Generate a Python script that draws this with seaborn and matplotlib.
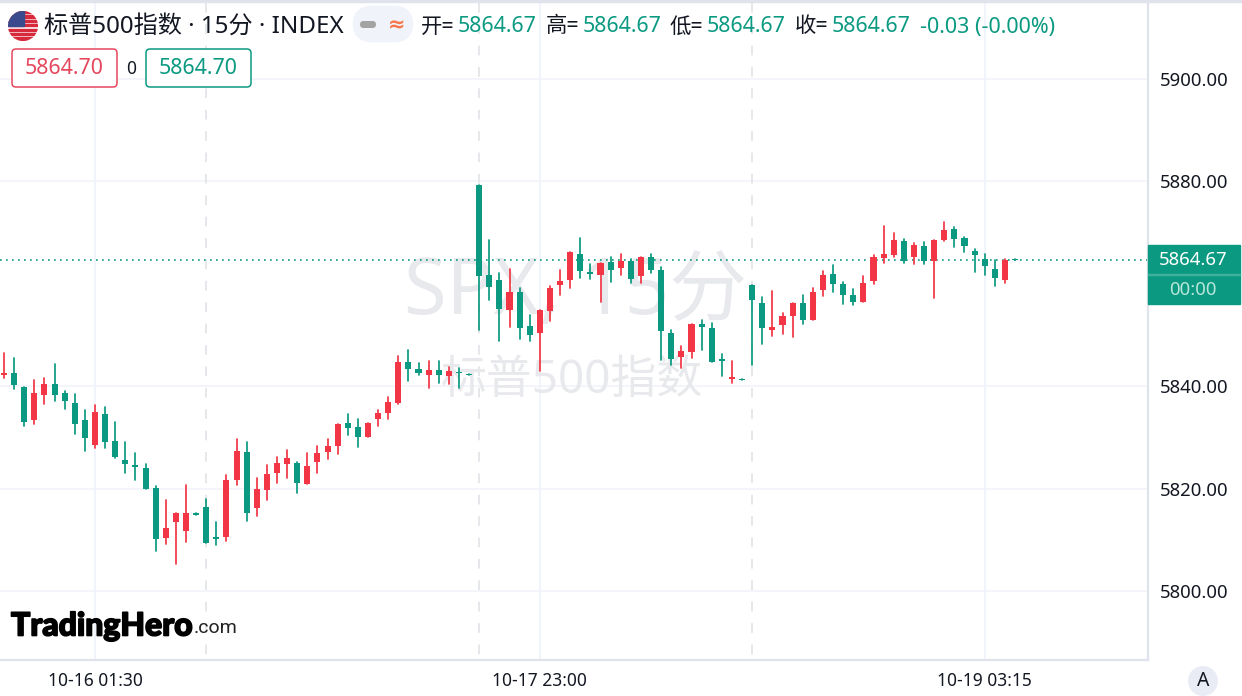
import numpy as np
import pandas as pd
import seaborn as sns
import matplotlib.pyplot as plt
import matplotlib.patheffects as pe
from matplotlib.patches import Circle, FancyBboxPatch, Rectangle
from matplotlib.transforms import Affine2D

sns.set_style("white")
plt.rcParams['font.family'] = ['Noto Sans', 'Noto Sans CJK SC', 'DejaVu Sans']

#-------------------------#
# Data
#-------------------------#
opens = [5842.2, 5842.6, 5839.9, 5833.4, 5838.3, 5840.4, 5838.7, 5836.7, 5833.4, 5828.5,
         5834.6, 5829.3, 5825.6, 5824.6, 5824.0, 5820.1, 5810.4, 5813.5, 5811.8, 5815.2,
         5816.4, 5810.6, 5810.6, 5821.6, 5827.2, 5816.3, 5819.7, 5823.1, 5824.8, 5825.0,
         5821.0, 5825.2, 5827.2, 5828.3, 5832.8, 5832.0, 5830.1, 5833.6, 5834.8, 5836.7,
         5844.7, 5843.4, 5842.2, 5843.2, 5842.0, 5842.8, 5842.4, 5879.3, 5861.7, 5860.7,
         5854.9, 5858.4, 5851.8, 5850.4, 5854.7, 5859.8, 5860.7, 5865.8, 5862.3, 5861.7,
         5864.3, 5863.1, 5864.5, 5861.5, 5865.2, 5862.7, 5850.4, 5845.7, 5846.7, 5852.2,
         5851.4, 5845.3, 5841.4, 5841.4, 5859.8, 5856.3, 5851.0, 5852.0, 5853.7, 5856.3,
         5852.9, 5858.8, 5861.9, 5860.0, 5857.8, 5856.5, 5860.6, 5865.0, 5865.6, 5868.4,
         5865.2, 5867.4, 5864.5, 5868.6, 5870.7, 5869.0, 5866.4, 5864.9, 5862.9, 5860.7, 5864.8]
closes = [5842.6, 5840.3, 5833.1, 5838.7, 5840.4, 5838.3, 5837.2, 5832.7, 5829.9, 5835.0,
          5829.2, 5826.2, 5824.9, 5824.3, 5820.0, 5810.2, 5812.3, 5815.2, 5815.2, 5814.9,
          5809.4, 5810.2, 5821.7, 5827.4, 5815.3, 5819.9, 5822.9, 5825.0, 5826.0, 5821.1,
          5824.4, 5827.0, 5828.3, 5832.6, 5831.8, 5830.1, 5832.8, 5834.8, 5836.9, 5844.7,
          5843.4, 5842.6, 5843.2, 5842.2, 5843.0, 5842.5, 5842.2, 5861.6, 5859.4, 5855.1,
          5858.4, 5851.4, 5850.0, 5854.9, 5859.2, 5860.6, 5866.2, 5862.5, 5861.9, 5864.1,
          5862.7, 5864.5, 5860.9, 5865.2, 5862.7, 5850.8, 5845.3, 5846.9, 5852.2, 5851.6,
          5844.7, 5844.9, 5841.8, 5841.2, 5856.8, 5851.4, 5851.6, 5853.7, 5856.3, 5852.9,
          5858.4, 5861.7, 5860.0, 5857.8, 5856.5, 5860.2, 5865.2, 5865.8, 5868.6, 5864.5,
          5867.6, 5864.5, 5868.6, 5870.5, 5868.8, 5867.4, 5865.6, 5863.5, 5861.1, 5864.7, 5864.67]
highs = [5846.4, 5845.5, 5839.9, 5841.2, 5841.6, 5844.3, 5839.1, 5838.5, 5835.4, 5836.3,
         5835.9, 5833.0, 5829.1, 5827.0, 5824.8, 5820.5, 5817.8, 5815.2, 5820.7, 5815.2,
         5818.0, 5813.5, 5822.7, 5829.7, 5829.1, 5822.1, 5824.6, 5826.2, 5827.5, 5825.2,
         5827.0, 5828.3, 5829.7, 5832.6, 5834.6, 5833.6, 5832.8, 5835.4, 5837.9, 5845.9,
         5847.1, 5844.5, 5844.9, 5844.9, 5843.8, 5843.6, 5842.4, 5879.3, 5868.6, 5862.1,
         5862.9, 5859.2, 5853.9, 5854.9, 5859.6, 5862.7, 5866.2, 5869.0, 5863.9, 5864.1,
         5865.2, 5865.8, 5864.9, 5865.2, 5865.8, 5863.3, 5851.0, 5847.9, 5852.2, 5852.9,
         5852.4, 5846.3, 5844.9, 5841.4, 5859.8, 5857.4, 5858.6, 5854.3, 5856.3, 5857.8,
         5859.2, 5862.5, 5863.7, 5860.4, 5859.0, 5861.5, 5865.6, 5871.3, 5869.9, 5868.8,
         5868.0, 5868.2, 5868.6, 5872.1, 5871.1, 5869.1, 5866.8, 5865.8, 5864.7, 5864.9, 5864.8]
lows = [5841.7, 5839.5, 5832.3, 5832.7, 5836.6, 5837.2, 5835.6, 5830.7, 5827.4, 5828.0,
        5828.0, 5826.0, 5823.1, 5821.7, 5820.0, 5807.9, 5809.2, 5805.3, 5809.6, 5814.9,
        5809.4, 5808.9, 5809.8, 5820.8, 5813.7, 5814.7, 5817.8, 5821.1, 5822.1, 5819.1,
        5820.9, 5823.1, 5825.8, 5826.8, 5830.5, 5828.1, 5830.1, 5832.2, 5833.6, 5836.5,
        5841.0, 5842.2, 5839.7, 5840.6, 5840.4, 5839.7, 5842.2, 5851.0, 5856.8, 5848.8,
        5851.6, 5849.2, 5848.8, 5843.0, 5852.7, 5857.8, 5859.2, 5861.1, 5860.9, 5856.5,
        5860.4, 5861.7, 5860.2, 5860.2, 5862.1, 5845.1, 5844.1, 5843.6, 5845.5, 5847.1,
        5844.7, 5842.0, 5840.6, 5841.2, 5844.1, 5848.2, 5849.8, 5850.2, 5849.6, 5852.2,
        5852.9, 5857.6, 5858.4, 5856.1, 5855.9, 5856.5, 5860.0, 5864.1, 5865.2, 5864.1,
        5863.9, 5863.9, 5857.2, 5868.4, 5867.2, 5866.2, 5862.3, 5861.7, 5859.6, 5860.2, 5864.67]

last_price = 5864.67
price_ticks = [5800, 5820, 5840, 5860, 5880, 5900]
shown_ticks = [5800, 5820, 5840, 5880, 5900]
time_bars = [9, 53, 97]
time_labels = ["10-16 01:30", "10-17 23:00", "10-19 03:15"]
day_bars = [20, 47, 74]

RED = "#f23645"
GREEN = "#0b9a81"
GRID = "#f0f3fa"
BORDER = "#e0e3eb"
TEXT = "#131722"

df = pd.DataFrame({"bar": np.arange(len(opens)), "open": opens, "close": closes,
                   "high": highs, "low": lows})
df["dir"] = np.where(df["close"] >= df["open"], "up", "down")
df["bottom"] = df[["open", "close"]].min(axis=1)
df["body"] = (df["open"] - df["close"]).abs()

#-------------------------#
# Figure
#-------------------------#
fig = plt.figure(figsize=(12.42, 6.96), dpi=100)
ax = fig.add_axes([0, 36 / 696, 1148 / 1242, 660 / 696])
px = Affine2D().scale(1, -1).translate(0, 696)  # header and badges are placed in picture pixels

ax.hlines([t for t in price_ticks if t != 5860], -5, 120, color=GRID, lw=1.1, zorder=0)
ax.vlines(time_bars, 5700, 6000, color=GRID, lw=1.3, zorder=0)
ax.vlines(day_bars, 5700, 6000, color="#e6e7ea", lw=1.4, ls=(0, (5, 6)), zorder=0)

# watermark
ax.text(575, 293, "SPX, 15分", transform=px, fontsize=56, color="#e8e9ec", ha="center", va="center", zorder=1)
ax.text(572, 381, "标普500指数", transform=px, fontsize=33, color="#e8e9ec", ha="center", va="center", zorder=1)

# wicks
wicks = pd.concat([df[["bar", "dir", "high"]].rename(columns={"high": "price"}),
                   df[["bar", "dir", "low"]].rename(columns={"low": "price"})])
sns.lineplot(data=wicks, x="bar", y="price", units="bar", hue="dir", estimator=None,
             palette={"up": RED, "down": GREEN}, lw=1.25, legend=False, ax=ax, zorder=3)

# bodies
for name, color in [("up", RED), ("down", GREEN)]:
    part = df[df["dir"] == name]
    sns.barplot(data=part, x="bar", y="body", bottom=part["bottom"].values, native_scale=True,
                color=color, saturation=1, width=0.6, errorbar=None, linewidth=0, ax=ax, zorder=4)

ax.axhline(last_price, color=GREEN, lw=1.2, ls=(0, (1, 2.6)), zorder=2)

ax.set_xlim(-0.396, 113.15)
ax.set_ylim(5786.53, 5915.43)
ax.set_xlabel("")
ax.set_ylabel("")

ax.yaxis.tick_right()
ax.set_yticks(shown_ticks)
ax.set_yticklabels([f"{t:.2f}" for t in shown_ticks], fontsize=13.4, color=TEXT)
ax.set_xticks(time_bars)
ax.set_xticklabels(time_labels, fontsize=12.5, color=TEXT)
ax.tick_params(axis="y", length=0, pad=8.5)
ax.tick_params(axis="x", length=0, pad=9)
for side in ["left", "top"]:
    ax.spines[side].set_visible(False)
for side in ["right", "bottom"]:
    ax.spines[side].set_color(BORDER)
    ax.spines[side].set_linewidth(1.6)
ax.add_patch(Rectangle((0, 0), 1242, 1.5, transform=px, color=BORDER, clip_on=False, zorder=6))

#-------------------------#
# Header
#-------------------------#
flag = Circle((23, 26), 15, transform=px, fc="white", ec="none", clip_on=False, zorder=7)
ax.add_patch(flag)
for i in range(7):
    s = Rectangle((8, 11 + i * 4.4), 30, 2.2, transform=px, color="#d8283c", clip_on=True, zorder=8)
    ax.add_patch(s)
    s.set_clip_path(flag)
canton = Rectangle((8, 11), 16, 15, transform=px, color="#3b4a8c", clip_on=True, zorder=9)
ax.add_patch(canton)
canton.set_clip_path(flag)

ax.text(44, 27, "标普500指数 · 15分 · INDEX", transform=px, fontsize=17.4, color=TEXT, va="center", zorder=7)
ax.add_patch(FancyBboxPatch((361, 14), 44, 20, boxstyle="round,pad=0,rounding_size=10", mutation_aspect=1,
                            transform=px, fc=GRID, ec=GRID, lw=12, clip_on=False, zorder=7, joinstyle="round"))
ax.add_patch(FancyBboxPatch((360, 21), 16, 7, boxstyle="round,pad=0,rounding_size=3.5", transform=px,
                            fc="#a3a3a3", ec="none", clip_on=False, zorder=8))
ax.text(397, 25, "≈", transform=px, fontsize=15, color="#f7764a", ha="center", va="center",
        family="DejaVu Sans", weight="bold", zorder=8)

for x_label, label, x_value in [(421, "开=", 458), (546, "高=", 583), (670, "低=", 707), (795, "收=", 832)]:
    ax.text(x_label, 27, label, transform=px, fontsize=15.4, color=TEXT, va="center", zorder=7)
    ax.text(x_value, 27, f"{last_price:.2f}", transform=px, fontsize=15.4, color=GREEN, va="center", zorder=7)
ax.text(920, 27, "-0.03 (-0.00%)", transform=px, fontsize=15.5, color=GREEN, va="center", zorder=7)

for x0, color in [(12, "#e5485d"), (146, GREEN)]:
    ax.add_patch(FancyBboxPatch((x0, 49), 105, 38, boxstyle="round,pad=0,rounding_size=4", transform=px,
                                fc="white", ec=color, lw=1.1, clip_on=False, zorder=7))
    ax.text(x0 + 52.5, 68, "5864.70", transform=px, fontsize=15.4, color=color, ha="center", va="center", zorder=8)
ax.text(131, 69, "0", transform=px, fontsize=12.5, color=TEXT, ha="center", va="center", zorder=8)

#-------------------------#
# Price badge, logo, button
#-------------------------#
ax.add_patch(Rectangle((1148, 245), 92, 59, transform=px, color=GREEN, clip_on=False, zorder=7))
ax.add_patch(Rectangle((1148, 274), 92, 1, transform=px, color="#3fb09c", clip_on=False, zorder=8))
ax.text(1193, 260, f"{last_price:.2f}", transform=px, fontsize=13.4, color="white", ha="center", va="center", zorder=8)
ax.text(1193, 290, "00:00", transform=px, fontsize=13.4, color="#b8e6da", ha="center", va="center", zorder=8)

logo = ax.text(11, 626, "TradingHero", transform=px, fontsize=23, color="black", va="center", family="Lato",
               weight="black", zorder=7)
logo.set_path_effects([pe.withStroke(linewidth=1.2, foreground="black")])
ax.text(194, 628, ".com", transform=px, fontsize=14, color="#222222", va="center", family="Roboto", zorder=7)

ax.add_patch(Circle((1203, 681), 15, transform=px, fc="#e9ecf5", ec="none", clip_on=False, zorder=7))
ax.text(1203, 681, "A", transform=px, fontsize=14, color=TEXT, ha="center", va="center", zorder=8)

fig.savefig("out.png", dpi=100)
